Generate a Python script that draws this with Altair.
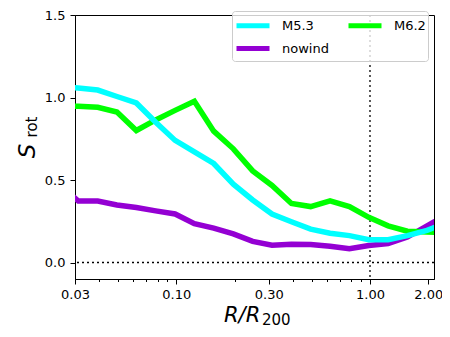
import altair as alt
import pandas as pd

# radial bins (R/R200)
r_vals = [0.0248, 0.0312, 0.0393, 0.0494, 0.0622, 0.0783, 0.0986, 0.124, 0.156,
          0.197, 0.248, 0.312, 0.393, 0.494, 0.622, 0.783, 0.986, 1.24, 1.56,
          1.97, 2.48]
m53 = [1.06, 1.058, 1.045, 1.006, 0.967, 0.85, 0.74, 0.67, 0.60, 0.475, 0.379,
       0.294, 0.247, 0.202, 0.177, 0.163, 0.138, 0.138, 0.163, 0.195, 0.24]
m62 = [0.95, 0.947, 0.941, 0.912, 0.80, 0.864, 0.922, 0.977, 0.796, 0.689,
       0.555, 0.467, 0.358, 0.339, 0.374, 0.339, 0.274, 0.222, 0.19, 0.185, 0.18]
nowind = [0.476, 0.372, 0.372, 0.349, 0.333, 0.313, 0.294, 0.235, 0.208, 0.173,
          0.128, 0.105, 0.111, 0.109, 0.099, 0.083, 0.103, 0.115, 0.154, 0.222, 0.29]

series_names = ["M5.3", "nowind", "M6.2"]
series_colors = ["#00ffff", "#9400d3", "#00ff00"]
x_major = [0.03, 0.1, 0.3, 1.0, 2.0]
x_minor = [0.04, 0.05, 0.06, 0.07, 0.08, 0.09, 0.2, 0.4, 0.5, 0.6, 0.7, 0.8, 0.9]
y_major = [0.0, 0.5, 1.0, 1.5]

rows = []
for name, vals in zip(["M5.3", "M6.2", "nowind"], [m53, m62, nowind]):
    for r, v in zip(r_vals, vals):
        rows.append({"r": r, "s": v, "series": name})
df = pd.DataFrame(rows)

FONT = "DejaVu Sans"
xscale = alt.Scale(type="log", domain=[0.03, 2.14], nice=False)
yscale = alt.Scale(domain=[-0.1, 1.5], nice=False, zero=False)
color = alt.Color(
    "series:N",
    scale=alt.Scale(domain=series_names, range=series_colors),
    legend=alt.Legend(
        title=None, orient="none", legendX=157, legendY=-4, columns=2,
        symbolType="M-1,0H2.3", symbolStrokeWidth=5, symbolSize=400,
        labelFont=FONT, labelFontSize=13, labelColor="black", labelOffset=23,
        columnPadding=9, rowPadding=-7, padding=2,
        fillColor="rgba(255,255,255,0.8)", strokeColor="#cccccc", cornerRadius=3,
    ),
)

main_x_axis = alt.Axis(values=x_major, format=".2f", labelFont=FONT, labelFontSize=13,
                       labelColor="black", tickColor="black", domainColor="black",
                       tickSize=5, labelPadding=4, grid=False, title=None,
                       labelFlush=False, orient="bottom")
y_axis = alt.Axis(values=y_major, format=".1f", labelFont=FONT, labelFontSize=13,
                  labelColor="black", tickColor="black", domainColor="black",
                  tickSize=5, labelPadding=5, grid=False, title=None)

base = alt.Chart(df)

def series_layer(name, with_axis):
    return base.transform_filter(alt.datum.series == name).mark_line(
        strokeWidth=5.5, clip=True, strokeJoin="miter", strokeCap="butt"
    ).encode(
        x=alt.X("r:Q", scale=xscale, axis=main_x_axis if with_axis else None),
        y=alt.Y("s:Q", scale=yscale, axis=y_axis),
        color=color,
    )

l_now = series_layer("nowind", True)
l_62 = series_layer("M6.2", False)
l_53 = series_layer("M5.3", False)

minor_axis = alt.Axis(values=x_minor, labels=False, tickSize=2.5, tickColor="black",
                      domain=False, grid=False, title=None, orient="bottom")
vline = alt.Chart(pd.DataFrame({"v": [1.0]})).mark_rule(
    color="black", strokeWidth=1.3, strokeDash=[2, 3]
).encode(x=alt.X("v:Q", scale=xscale, axis=minor_axis))

hline = alt.Chart(pd.DataFrame({"h": [0.0]})).mark_rule(
    color="black", strokeWidth=1.3, strokeDash=[2, 3]
).encode(y=alt.Y("h:Q", scale=yscale, axis=y_axis))

one = pd.DataFrame({"a": [0]})
xt1 = alt.Chart(one).mark_text(font=FONT, fontSize=21, fontStyle="italic", align="left",
                               baseline="alphabetic", color="black").encode(
    x=alt.value(149), y=alt.value(307), text=alt.value("R/R"))
xt2 = alt.Chart(one).mark_text(font=FONT, fontSize=15, align="left",
                               baseline="alphabetic", color="black").encode(
    x=alt.value(187), y=alt.value(310), text=alt.value("200"))
yt1 = alt.Chart(one).mark_text(font=FONT, fontSize=23, fontStyle="italic", align="center",
                               baseline="alphabetic", angle=270, color="black").encode(
    x=alt.value(-40), y=alt.value(136), text=alt.value("S"))
yt2 = alt.Chart(one).mark_text(font=FONT, fontSize=15, align="center",
                               baseline="alphabetic", angle=270, color="black").encode(
    x=alt.value(-38), y=alt.value(112), text=alt.value("rot"))

chart = alt.layer(hline, vline, l_now, l_62, l_53, xt1, xt2, yt1, yt2).resolve_axis(
    x="independent"
).properties(
    width=359, height=264,
    autosize=alt.AutoSizeParams(type="none"),
    padding={"left": 67, "top": 7, "right": 8, "bottom": 50},
).configure_view(stroke="black", strokeWidth=1)

chart.save("out.html", embed_options={"renderer": "svg", "actions": False})
